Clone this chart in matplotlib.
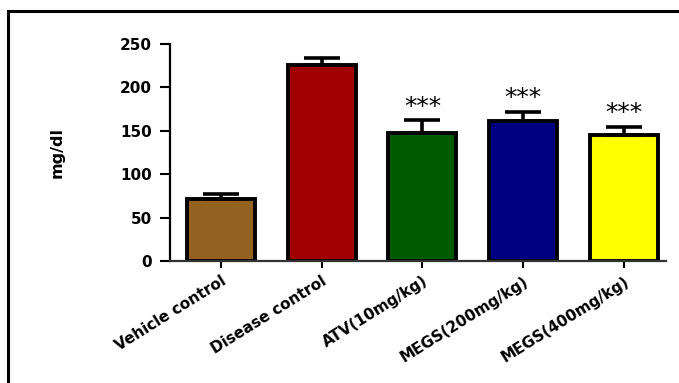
import numpy as np
import matplotlib.pyplot as plt
from matplotlib.patches import Rectangle

# Serum level per treatment group (mean with SEM)
groups = ["Vehicle control", "Disease control", "ATV(10mg/kg)",
          "MEGS(200mg/kg)", "MEGS(400mg/kg)"]
means = [72, 226, 148, 161, 145.5]
sem = [5, 8, 14, 10.5, 9]
signif = ["", "", "***", "***", "***"]
colors = ["#946220", "#A00000", "#005A00", "#000080", "#FFFF00"]

fig = plt.figure(figsize=(6.79, 3.83), dpi=100)
ax = fig.add_axes([0.2504, 0.3185, 0.7306, 0.5666])

x = np.arange(len(groups))
ax.bar(x, means, width=0.675, color=colors, edgecolor="black", linewidth=2.8, zorder=2)
ax.errorbar(x, means, yerr=[np.zeros(len(sem)), sem], fmt="none", ecolor="black",
            elinewidth=2.6, capsize=13, capthick=2.6, zorder=3)

for xi, m, e, s in zip(x, means, sem, signif):
    if s:
        ax.text(xi, m + e + 2, s, ha="center", va="bottom", fontsize=18,
                family="DejaVu Sans", zorder=4)

ax.set_xlim(-0.506, 4.42)
ax.set_ylim(0, 250)
ax.set_yticks(np.arange(0, 251, 50))
ax.set_xticks(x)
ax.set_xticklabels(groups, rotation=32, ha="right", rotation_mode="anchor",
                   fontsize=11, fontweight="bold")
ax.set_ylabel("mg/dl", fontsize=11.5, fontweight="bold", labelpad=40)
for lbl in ax.get_yticklabels():
    lbl.set_fontweight("bold")
    lbl.set_fontsize(11)

ax.spines["top"].set_visible(False)
ax.spines["right"].set_visible(False)
ax.spines["left"].set_linewidth(1.6)
ax.spines["bottom"].set_linewidth(1.6)
ax.spines["bottom"].set_color("#333333")
ax.tick_params(axis="y", length=7, width=1.5, pad=6)
ax.tick_params(axis="x", length=5, width=1.5, pad=4)

# outer frame along the left and top of the figure
fig.patches.append(Rectangle((8 / 679, -0.5), 2.0, 0.5 + 1 - 11 / 383,
                             transform=fig.transFigure, fill=False,
                             edgecolor="black", linewidth=2.2))

fig.savefig("out.png", dpi=100)
